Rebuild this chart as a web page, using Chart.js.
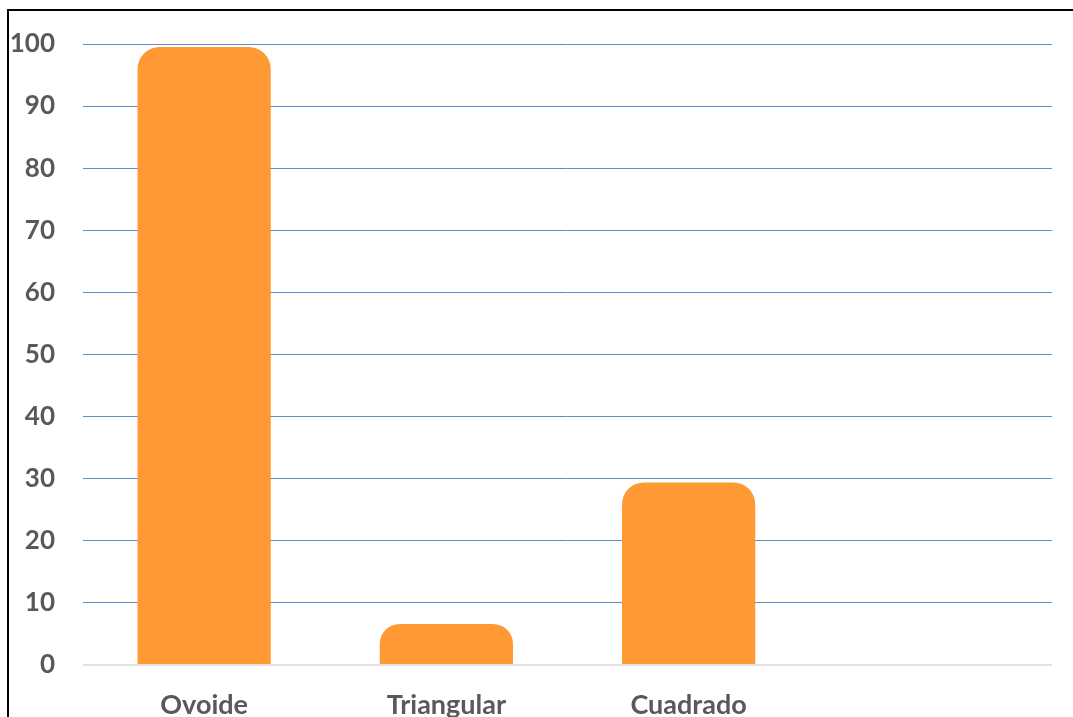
<!DOCTYPE html>
<html>
<head>
<meta charset="utf-8">
<script src="https://cdn.jsdelivr.net/npm/chart.js@4.4.0/dist/chart.umd.min.js"></script>
<style>
  html, body { margin: 0; padding: 0; background: #fff; overflow: hidden; }
  #frame {
    position: absolute; left: 7px; top: 9px; right: 0; bottom: 0;
    border-left: 2px solid #000; border-top: 2px solid #000;
  }
  #wrap { position: absolute; left: 0; top: 0; width: 1073px; height: 717px; }
</style>
</head>
<body>
<div id="frame"></div>
<div id="wrap"><canvas id="chartBar"></canvas></div>
<script>
// Formas de semilla
const categories = ['Ovoide', 'Triangular', 'Cuadrado', ''];
const counts = [99.5, 6.6, 29.4, null];
const yTicks = [0, 10, 20, 30, 40, 50, 60, 70, 80, 90, 100];

const labelFont = { family: 'Lato', weight: 'bold', size: 26 };

new Chart(document.getElementById('chartBar'), {
  type: 'bar',
  data: {
    labels: categories,
    datasets: [{
      data: counts,
      backgroundColor: '#FF9933',
      borderRadius: { topLeft: 22, topRight: 22 },
      borderSkipped: 'bottom',
      barPercentage: 0.55,
      categoryPercentage: 1
    }]
  },
  options: {
    responsive: true,
    maintainAspectRatio: false,
    animation: false,
    layout: { padding: { top: 44, right: 21, left: 0, bottom: 0 } },
    plugins: { legend: { display: false }, tooltip: { enabled: false } },
    scales: {
      x: {
        grid: { display: false },
        border: { display: false },
        ticks: { color: '#595959', font: { ...labelFont, size: 27 }, padding: 16 },
        afterFit: s => { s.height = 52; }
      },
      y: {
        min: 0,
        max: 100,
        afterBuildTicks: s => { s.ticks = yTicks.map(v => ({ value: v })); },
        grid: {
          drawTicks: false,
          color: ctx => ctx.tick && ctx.tick.value === 0 ? '#E3E3E3' : '#5A8FC8',
          lineWidth: ctx => ctx.tick && ctx.tick.value === 0 ? 2 : 1
        },
        border: { display: false },
        ticks: { color: '#595959', font: labelFont, padding: 28 },
        afterFit: s => { s.width = 83; }
      }
    }
  }
});
</script>
</body>
</html>
